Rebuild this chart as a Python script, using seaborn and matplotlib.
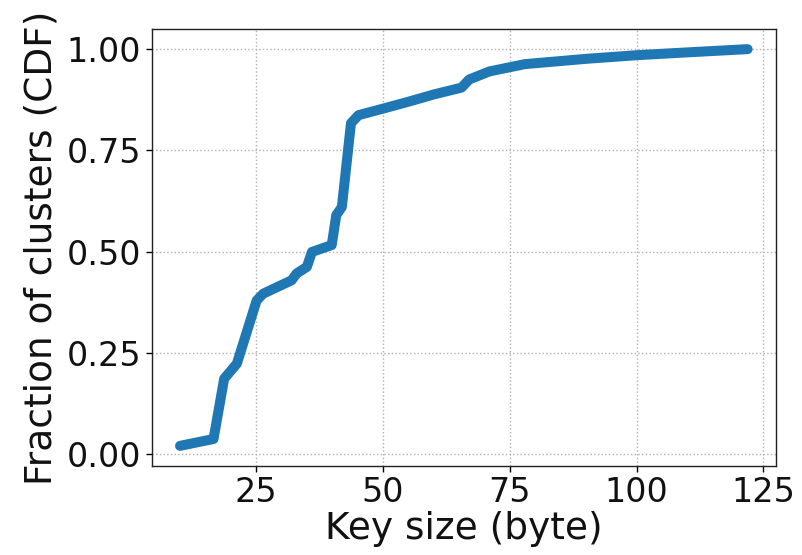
import matplotlib
matplotlib.use("Agg")
import matplotlib.pyplot as plt
import seaborn as sns
import pandas as pd

# Key size (byte) and CDF values
key_size = [10.0, 16.6, 18.7, 21.2, 25.1, 26.4, 32.0, 33.0, 35.0, 36.0,
            39.9, 40.8, 41.9, 43.7, 45.2, 50.0, 55.0, 60.0, 65.5, 67.0,
            71.0, 78.0, 90.0, 100.0, 110.0, 121.9]
cdf = [0.020, 0.037, 0.186, 0.223, 0.379, 0.396, 0.429, 0.446, 0.462, 0.499,
       0.516, 0.590, 0.610, 0.817, 0.837, 0.853, 0.870, 0.888, 0.905, 0.925,
       0.945, 0.963, 0.976, 0.985, 0.992, 1.000]

x_ticks = [25, 50, 75, 100, 125]
y_ticks = [0.00, 0.25, 0.50, 0.75, 1.00]
y_tick_labels = ["0.00", "0.25", "0.50", "0.75", "1.00"]

df = pd.DataFrame({"key": key_size, "cdf": cdf})

sns.set_style("ticks")
plt.rcParams['font.family'] = ['DejaVu Sans']
plt.rcParams['text.color'] = 'black'
plt.rcParams['axes.labelcolor'] = 'black'
plt.rcParams['xtick.color'] = 'black'
plt.rcParams['ytick.color'] = 'black'

fig = plt.figure(figsize=(8.02, 5.55), dpi=100)
ax = fig.add_axes([0.1891, 0.1609, 0.9676 - 0.1891, 0.9472 - 0.1609])

sns.lineplot(data=df, x="key", y="cdf", ax=ax, sort=False, estimator=None,
             color="#1f77b4", linewidth=7.2)

ax.set_xticks(x_ticks)
ax.set_yticks(y_ticks)
ax.set_yticklabels(y_tick_labels)
ax.grid(True, linestyle=":", color="#b0b0b0", linewidth=1.0)
for s in ax.spines.values():
    s.set_color("#222222")
    s.set_linewidth(1.0)
ax.tick_params(axis="both", labelsize=24, length=4, width=1.0,
               color="black", labelcolor="#111111")
ax.set_xlabel("Key size (byte)", fontsize=27, labelpad=1, color="#111111")
ax.set_ylabel("Fraction of clusters (CDF)", fontsize=27, labelpad=5, color="#111111")

fig.savefig("out.png", dpi=100)
